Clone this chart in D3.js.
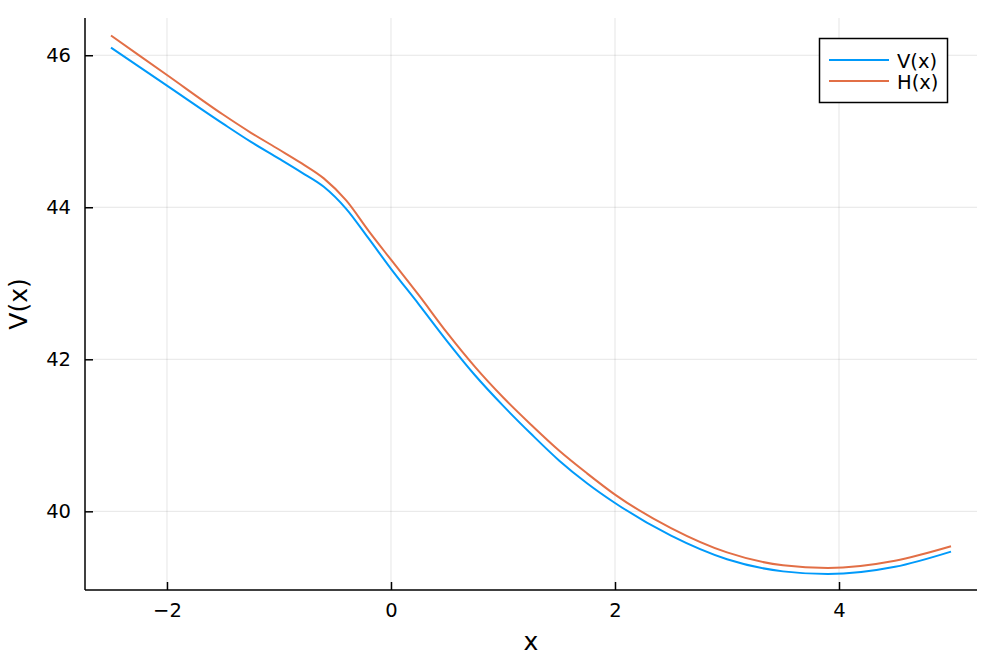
<!DOCTYPE html>
<html>
<head>
<meta charset="utf-8">
<script src="https://cdn.jsdelivr.net/npm/d3@7"></script>
<style>
  html, body { margin: 0; padding: 0; background: #fff; }
  svg { display: block; font-family: "DejaVu Sans", sans-serif; }
</style>
</head>
<body>
<svg id="chart" width="997" height="664"></svg>
<script>
const xValues = [-2.5, -2, -1.5, -1.25, -1, -0.8, -0.6, -0.4, -0.2, 0, 0.25, 0.5, 0.75, 1, 1.25, 1.5, 1.75, 2, 2.5, 3, 3.5, 3.9, 4.5, 5];
const vValues = [46.10, 45.60, 45.10, 44.86, 44.64, 44.46, 44.27, 43.98, 43.59, 43.19, 42.72, 42.24, 41.79, 41.39, 41.02, 40.67, 40.37, 40.11, 39.68, 39.37, 39.21, 39.175, 39.27, 39.47];
const hValues = [46.26, 45.74, 45.22, 44.98, 44.76, 44.58, 44.38, 44.09, 43.69, 43.31, 42.84, 42.35, 41.90, 41.50, 41.14, 40.80, 40.50, 40.22, 39.78, 39.46, 39.29, 39.255, 39.35, 39.54];
const seriesNames = ["V(x)", "H(x)"];
const seriesColors = ["#009AFA", "#E26F46"];
const xTicks = [-2, 0, 2, 4];
const yTicks = [40, 42, 44, 46];

const svg = d3.select("#chart");
const mLeft = 85, mRight = 977, mTop = 18, mBottom = 590;

const x = d3.scaleLinear().domain([-2.732, 5.232]).range([mLeft, mRight]);
const y = d3.scaleLinear().domain([38.965, 46.49]).range([mBottom, mTop]);

// grid
svg.append("g").selectAll("line").data(xTicks).join("line")
  .attr("x1", d => x(d)).attr("x2", d => x(d))
  .attr("y1", mTop).attr("y2", mBottom)
  .attr("stroke", "#000").attr("stroke-opacity", 0.1).attr("stroke-width", 1);
svg.append("g").selectAll("line").data(yTicks).join("line")
  .attr("x1", mLeft).attr("x2", mRight)
  .attr("y1", d => y(d)).attr("y2", d => y(d))
  .attr("stroke", "#000").attr("stroke-opacity", 0.1).attr("stroke-width", 1);

// axes
const fmt = d => (d < 0 ? "\u2212" + Math.abs(d) : String(d));
const xAxis = d3.axisBottom(x).tickValues(xTicks).tickSize(-8).tickPadding(13).tickFormat(fmt);
const yAxis = d3.axisLeft(y).tickValues(yTicks).tickSize(-8).tickPadding(14).tickFormat(fmt);

const gx = svg.append("g").attr("transform", `translate(0,${mBottom})`).call(xAxis);
const gy = svg.append("g").attr("transform", `translate(${mLeft},0)`).call(yAxis);
[gx, gy].forEach(g => {
  g.select(".domain").remove();
  g.selectAll(".tick line").attr("stroke", "#000").attr("stroke-width", 1.5);
  g.selectAll(".tick text").attr("fill", "#000").style("font-size", "19.5px").style("font-family", "DejaVu Sans, sans-serif");
});

// axis lines (left & bottom)
svg.append("line").attr("x1", mLeft).attr("x2", mLeft).attr("y1", mTop).attr("y2", mBottom)
  .attr("stroke", "#000").attr("stroke-width", 1.5);
svg.append("line").attr("x1", mLeft).attr("x2", mRight).attr("y1", mBottom).attr("y2", mBottom)
  .attr("stroke", "#000").attr("stroke-width", 1.5);

// lines
const line = d3.line().x(d => x(d[0])).y(d => y(d[1])).curve(d3.curveMonotoneX);
[vValues, hValues].forEach((vals, i) => {
  svg.append("path")
    .datum(xValues.map((xv, j) => [xv, vals[j]]))
    .attr("fill", "none").attr("stroke", seriesColors[i]).attr("stroke-width", 2)
    .attr("d", line);
});

// axis titles
svg.append("text").attr("x", (mLeft + mRight) / 2).attr("y", 650)
  .attr("text-anchor", "middle").style("font-size", "25px").text("x");
svg.append("text").attr("transform", `translate(27,${(mTop + mBottom) / 2}) rotate(-90)`)
  .attr("text-anchor", "middle").style("font-size", "25px").text("V(x)");

// legend
const lg = svg.append("g");
lg.append("rect").attr("x", 819.5).attr("y", 38.5).attr("width", 128).attr("height", 64)
  .attr("fill", "#fff").attr("stroke", "#000").attr("stroke-width", 1.5);
seriesNames.forEach((name, i) => {
  const ly = 60 + i * 21;
  lg.append("line").attr("x1", 829).attr("x2", 889).attr("y1", ly).attr("y2", ly)
    .attr("stroke", seriesColors[i]).attr("stroke-width", 2);
  lg.append("text").attr("x", 897).attr("y", ly + 8).style("font-size", "19.5px").text(name);
});
</script>
</body>
</html>
